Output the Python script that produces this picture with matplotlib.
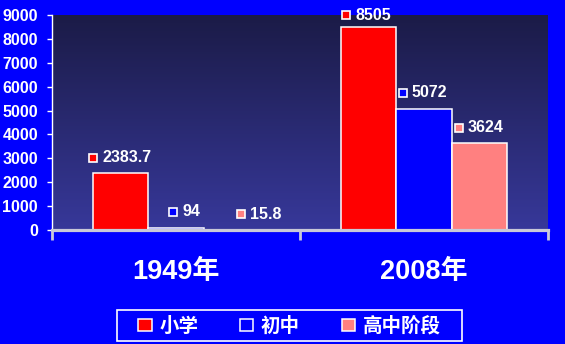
import numpy as np
import matplotlib
matplotlib.use("Agg")
import matplotlib.pyplot as plt
from matplotlib.patches import Patch, Rectangle
from matplotlib.colors import LinearSegmentedColormap
from matplotlib.transforms import offset_copy, blended_transform_factory
from matplotlib.font_manager import FontProperties

# Enrolment by school level (万人)
years = ["1949年", "2008年"]
levels = ["小学", "初中", "高中阶段"]
primary = [2383.7, 8505]
junior = [94, 5072]
senior = [15.8, 3624]
value_text = [["2383.7", "8505"], ["94", "5072"], ["15.8", "3624"]]
y_ticks = [0, 1000, 2000, 3000, 4000, 5000, 6000, 7000, 8000, 9000]

series = [primary, junior, senior]
colors = ["#FF0000", "#0000FF", "#FF8080"]

# label placement in pixels relative to each bar's top centre
label_dx = [[-28, -22.5], [-3, -21.5], [9.5, -20.5]]
label_dy = [[15.5, 11.5], [16, 16], [15.5, 15.5]]

W, H = 565, 344
fig = plt.figure(figsize=(W / 100, H / 100), dpi=100)
fig.patch.set_facecolor("#0000FF")

left, right, top, bottom = 52, 548, 15, 230
ax = fig.add_axes([left / W, 1 - bottom / H, (right - left) / W, (bottom - top) / H])
ax.patch.set_visible(False)

num_font = "Liberation Sans"
cjk_font = "Noto Sans CJK SC"

# gradient plot area
grad = LinearSegmentedColormap.from_list("bg", ["#1b1b47", "#37389a"])
ax.imshow(np.linspace(0, 1, 256).reshape(-1, 1), cmap=grad, aspect="auto",
          extent=[-0.5, 1.5, 0, 9000], zorder=0, interpolation="bilinear")

x = np.arange(len(years))
bw = 0.222
for i, (vals, c) in enumerate(zip(series, colors)):
    xs = x + (i - 1) * bw
    ax.bar(xs, vals, width=bw, color=c, edgecolor="white", linewidth=1.1, zorder=2)
    for j, (xv, v) in enumerate(zip(xs, vals)):
        dx, dy = label_dx[i][j], label_dy[i][j]
        tr = offset_copy(ax.transData, fig=fig, x=dx, y=dy, units="dots")
        ax.plot([xv], [v], marker="s", markersize=6.3, markerfacecolor=c,
                markeredgecolor="white", markeredgewidth=1.2, transform=tr,
                zorder=4, clip_on=False, linestyle="none")
        tr2 = offset_copy(ax.transData, fig=fig, x=dx + 9.5, y=dy, units="dots")
        ax.text(xv, v, value_text[i][j], transform=tr2, color="white",
                fontsize=11.5, fontweight="bold", family=num_font,
                ha="left", va="center", zorder=4, clip_on=False)

ax.set_xlim(-0.5, 1.5)
ax.set_ylim(0, 9000)
ax.set_yticks(y_ticks)
ax.set_yticklabels([str(t) for t in y_ticks])
for lab in ax.get_yticklabels():
    lab.set_fontweight("bold")
    lab.set_family(num_font)
ax.tick_params(axis="y", colors="white", length=3.6, width=1, pad=6.5, labelsize=11.5)

ax.set_xticks([])
ax.set_xticks([-0.5, 0.5, 1.5], minor=True)
ax.tick_params(axis="x", which="minor", length=7.2, width=2, color="#C8C8D8",
               direction="out", labelbottom=False)

for s in ("top", "right"):
    ax.spines[s].set_visible(False)
ax.spines["left"].set_color("white")
ax.spines["left"].set_linewidth(1)
ax.spines["bottom"].set_color("#C8C8D8")
ax.spines["bottom"].set_linewidth(2.3)
ax.spines["left"].set_zorder(5)
ax.spines["bottom"].set_zorder(5)

# category labels under the axis
bt = blended_transform_factory(ax.transData, ax.transAxes)
for xi, yr in zip(x, years):
    ax.text(xi, (bottom - 272) / (bottom - top), yr, transform=bt, color="white",
            fontsize=19.5, fontweight="bold", family=[num_font, cjk_font],
            ha="center", va="center")

# legend
handles = [Patch(facecolor=c, edgecolor="white", linewidth=1.1) for c in colors]
leg = fig.legend(handles, levels, loc="center",
                 bbox_to_anchor=(289.5 / W, 1 - 326 / H), ncol=3, frameon=False,
                 prop=FontProperties(family=cjk_font, weight="bold", size=14),
                 handlelength=0.67, handleheight=0.62, handletextpad=0.4,
                 columnspacing=2.15, labelcolor="white")
fig.add_artist(Rectangle((117 / W, 1 - 341 / H), (462 - 117) / W, 31 / H,
                         transform=fig.transFigure, fill=False,
                         edgecolor="white", linewidth=1.2))

fig.savefig("out.png", dpi=100, facecolor=fig.get_facecolor())
